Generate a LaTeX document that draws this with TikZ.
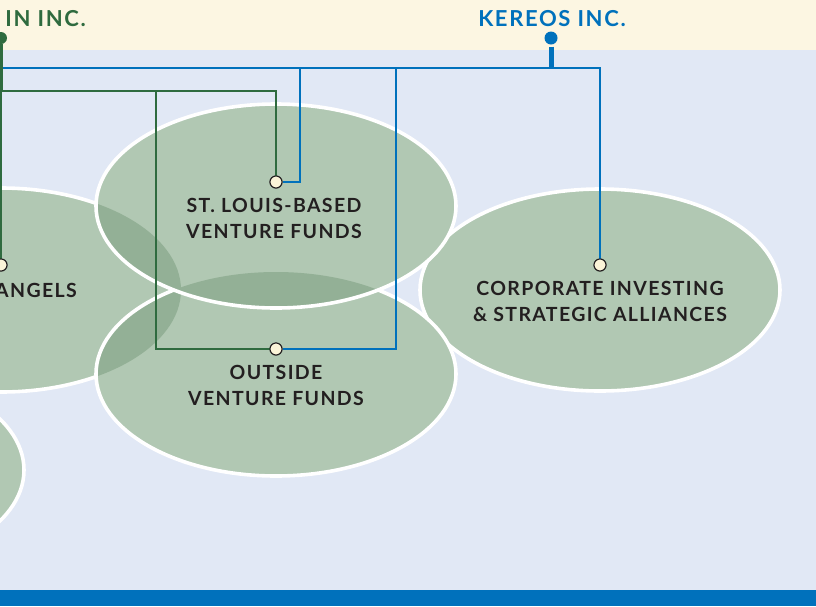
\documentclass[tikz,border=0pt]{standalone}
\usepackage{fontspec}
\setmainfont{Lato}
\newfontfamily\labfont[LetterSpace=7]{Lato}
\newfontfamily\ttlfont[LetterSpace=7.5]{Lato}
\definecolor{bg}{HTML}{E1E8F5}
\definecolor{cream}{HTML}{FCF6E2}
\definecolor{kblue}{HTML}{0071BC}
\definecolor{kgreen}{HTML}{2F6B3F}
\definecolor{efill}{HTML}{B1C8B3}
\definecolor{edark}{HTML}{93B096}
\definecolor{txt}{HTML}{231F20}
\definecolor{dotfill}{HTML}{FBF4D8}
\begin{document}
\begin{tikzpicture}[x=1pt,y=-1pt,
  lab/.style={font=\labfont\bfseries\fontsize{19.5}{26}\selectfont, text=txt, align=center, inner sep=0pt},
  ttl/.style={font=\ttlfont\bfseries\fontsize{22}{26}\selectfont, inner sep=0pt},
  dot/.style={circle, draw=txt, line width=1pt, fill=dotfill, minimum size=12pt, inner sep=0pt},
  bline/.style={kblue, line width=2.5pt},
  gline/.style={kgreen, line width=2.5pt},
  rim/.style={white, line width=3.6pt}]
\useasboundingbox (0,0) rectangle (816,606);
\begin{scope}
\clip (0,0) rectangle (816,606);
\fill[bg] (0,0) rectangle (816,606);
\fill[cream] (0,0) rectangle (816,50);
\fill[kblue] (0,590) rectangle (816,606);
\coordinate (cA) at (1,290);
\coordinate (cS) at (276,206);
\coordinate (cO) at (276,374);
\coordinate (cC) at (600,290);
\coordinate (cL) at (-156,470);
% lower-left ellipse
\fill[efill] (cL) ellipse [x radius=180, y radius=102];
\draw[rim] (cL) ellipse [x radius=180, y radius=102];
% corporate
\fill[efill] (cC) ellipse [x radius=180, y radius=101];
\draw[rim] (cC) ellipse [x radius=180, y radius=101];
% angels
\fill[efill] (cA) ellipse [x radius=180, y radius=102];
\draw[rim] (cA) ellipse [x radius=180, y radius=102];
% outside
\fill[efill] (cO) ellipse [x radius=180, y radius=102];
\begin{scope}
\clip (cA) ellipse [x radius=180, y radius=102];
\fill[edark] (cO) ellipse [x radius=180, y radius=102];
\end{scope}
\draw[rim] (cO) ellipse [x radius=180, y radius=102];
% st louis
\fill[efill] (cS) ellipse [x radius=180, y radius=102];
\begin{scope}
\clip (cA) ellipse [x radius=180, y radius=102];
\fill[edark] (cS) ellipse [x radius=180, y radius=102];
\end{scope}
\begin{scope}
\clip (cO) ellipse [x radius=180, y radius=102];
\fill[edark] (cS) ellipse [x radius=180, y radius=102];
\end{scope}
\draw[rim] (cS) ellipse [x radius=180, y radius=102];
% titles and hubs
\node[ttl, text=kgreen, anchor=base east] (gt) at (86,26) {IN INC.};
\node[ttl, text=kblue, anchor=base] (kt) at (552,26) {KEREOS INC.};
\node[circle, fill=kgreen, minimum size=12pt, inner sep=0pt] (gdot) at (1,38) {};
\node[circle, fill=kblue, minimum size=13pt, inner sep=0pt] (kdot) at (551,38) {};
% target dots
\node[dot] (dS) at (276,182) {};
\node[dot] (dO) at (276,349) {};
\node[dot] (dC) at (600,265) {};
\node[dot] (dA) at (1,265) {};
% junctions
\coordinate (kJ) at (551,68);
\coordinate (bL) at (-6,68);
\coordinate (b1) at (300,68);
\coordinate (b2) at (396,68);
\coordinate (gJ) at (1,91);
\coordinate (gB) at (156,91);
% blue connectors
\draw[kblue, line width=5pt] ([yshift=-2pt]kdot.south) -- (kJ);
\draw[bline] (bL) -| (dC);
\draw[bline] (b1) |- (dS);
\draw[bline] (b2) |- (dO);
% green connectors
\draw[kgreen, line width=4.5pt] (gdot.south) -- (gJ);
\draw[gline] ([xshift=-1pt]gJ) -| (dS);
\draw[gline] (gB) |- (dO);
\draw[gline] (gJ) -- (dA);
% redraw dots on top
\node[dot] at (dS) {};
\node[dot] at (dO) {};
\node[dot] at (dC) {};
\node[dot] at (dA) {};
% labels
\node[lab] (lS) at (274,218) {ST. LOUIS-BASED\\VENTURE FUNDS};
\node[lab] (lO) at (276,385) {OUTSIDE\\VENTURE FUNDS};
\node[lab] (lC) at (600,301) {CORPORATE INVESTING\\\& STRATEGIC ALLIANCES};
\node[lab, anchor=base east] (lA) at (77,297) {ANGELS};
\end{scope}
\end{tikzpicture}
\end{document}
